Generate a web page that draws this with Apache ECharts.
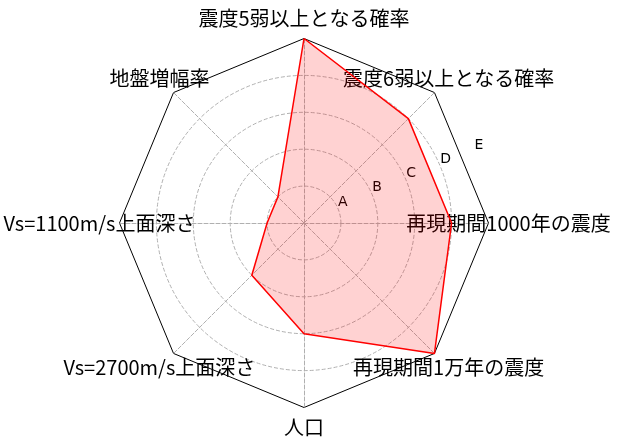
<!DOCTYPE html>
<html>
<head>
    <meta charset="UTF-8">
    <title>レーダーチャート</title>
    <script src="https://cdn.jsdelivr.net/npm/echarts@6/dist/echarts.min.js"></script>
    <style>
        html, body {margin: 0; padding: 0; background: #fff;}
        #chart {width: 618px; height: 446px;}
    </style>
</head>
<body>
    <div id="chart"></div>

    <script>
        // 項目名（上から反時計回り）
        const indicatorNames = [
            '震度5弱以上となる確率',
            '地盤増幅率',
            'Vs=1100m/s上面深さ',
            'Vs=2700m/s上面深さ',
            '人口',
            '再現期間1万年の震度',
            '再現期間1000年の震度',
            '震度6弱以上となる確率'
        ];
        // 評価値（0〜5）
        const scores = [5, 1, 1, 2, 3, 5, 4, 4];
        // 半径方向の目盛りラベル
        const levelLabels = ['A', 'B', 'C', 'D', 'E'];
        const maxLevel = 5;

        const center = [304, 223];
        const radius = 184.5;
        const gray = '#b0b0b0';
        const dash = [4, 2];

        const indicators = indicatorNames.map(name => ({ name: name, min: 0, max: maxLevel }));

        // 一番外側の円は八角形の枠で切れるので描かない
        const ringColors = [];
        for (let i = 0; i <= maxLevel; i++) ringColors.push(i < maxLevel ? gray : 'rgba(0,0,0,0)');

        const chart = echarts.init(document.getElementById('chart'));
        chart.setOption({
            animation: false,
            radar: [
                {
                    // 点線の同心円と放射線
                    center: center,
                    radius: radius,
                    startAngle: 90,
                    shape: 'circle',
                    splitNumber: maxLevel,
                    indicator: indicators,
                    nameGap: 20,
                    axisName: {
                        color: '#000',
                        fontSize: 20,
                        fontFamily: 'Noto Sans CJK JP',
                        align: 'center',
                        verticalAlign: 'middle'
                    },
                    axisLine: { lineStyle: { color: gray, width: 1, type: dash } },
                    splitLine: { lineStyle: { color: ringColors, width: 1, type: dash } },
                    splitArea: { show: false }
                },
                {
                    // 外枠の八角形
                    center: center,
                    radius: radius,
                    startAngle: 90,
                    shape: 'polygon',
                    splitNumber: 1,
                    indicator: indicators,
                    axisName: { show: false },
                    axisLine: { show: false },
                    splitLine: { lineStyle: { color: '#000', width: 1 } },
                    splitArea: { show: false }
                }
            ],
            // A〜E のラベル用
            polar: { center: center, radius: radius },
            angleAxis: {
                type: 'value',
                startAngle: 22.5,
                min: 0,
                max: 360,
                axisLine: { show: false },
                axisTick: { show: false },
                axisLabel: { show: false },
                splitLine: { show: false }
            },
            radiusAxis: {
                type: 'value',
                min: 0,
                max: maxLevel,
                interval: 1,
                axisLine: { show: false },
                axisTick: { show: false },
                splitLine: { show: false },
                axisLabel: {
                    formatter: v => levelLabels[v - 1] || '',
                    color: '#000',
                    fontSize: 14,
                    fontFamily: 'DejaVu Sans',
                    align: 'left',
                    verticalAlign: 'bottom',
                    margin: 0
                }
            },
            series: [{
                type: 'radar',
                radarIndex: 0,
                symbol: 'none',
                data: [{ value: scores, name: '評価' }],
                lineStyle: { color: '#ff0000', width: 1.5 },
                areaStyle: { color: 'rgba(255, 0, 0, 0.25)' },
                itemStyle: { color: '#ff0000' }
            }]
        });
    </script>
</body>
</html>
